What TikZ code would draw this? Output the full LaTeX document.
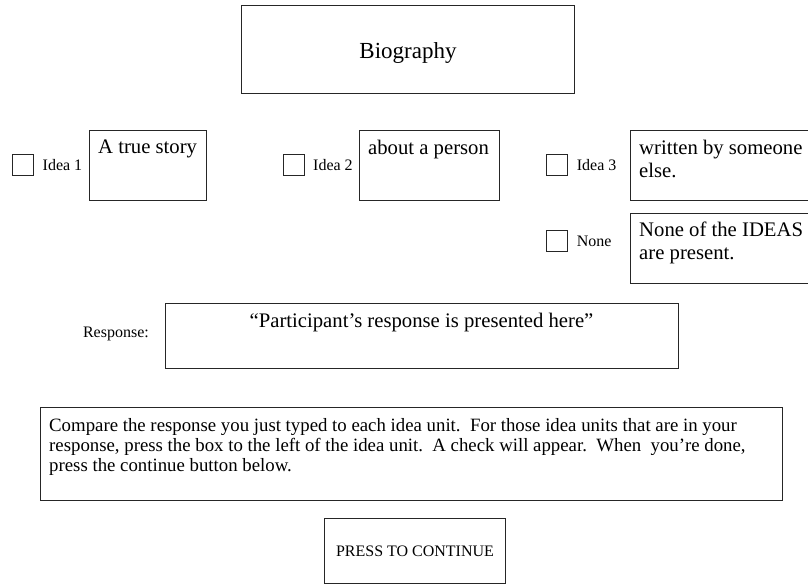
\documentclass[tikz,border=0pt]{standalone}
\usepackage{fontspec}
\setmainfont{Liberation Serif}
\usetikzlibrary{positioning}

\tikzset{
  every box/.style={draw=black!85, line width=1pt, rectangle, inner sep=0pt},
  tick box/.style={every box, minimum width=21pt, minimum height=21pt},
  small text/.style={inner sep=0pt, font=\fontsize{16}{19}\selectfont},
  unit text/.style={inner sep=0pt, align=left, anchor=north west, font=\fontsize{20.7}{23}\selectfont},
}

\begin{document}
\begin{tikzpicture}[x=1pt, y=-1pt]
	\useasboundingbox (0,0) rectangle (808,584);
	\clip (0,0) rectangle (808,584);
	
	% title
	\node [every box, minimum width=333pt, minimum height=88pt, text height=20pt, text depth=2pt, font=\fontsize{23}{27}\selectfont] (title) at (408,49.3) {Biography};
	
	% idea units
	\foreach \m/\cx/\bl/\br/\t in {1/12.5/89/206.6/{A true story}, 2/283/359/499/{about a person}, 3/546.7/630/812/{written by someone\\else.}}
	{
	  \node [tick box] (tick-\m) at (\cx+10.5,165) {};
	  \node [small text, right=8.5pt of tick-\m] (label-\m) {Idea \m};
	  \node [every box, minimum width=\br-\bl, minimum height=69.6pt] (unit-\m) at ({(\bl+\br)/2},165.2) {};
	  \node [unit text] (text-\m) at ([xshift=9.5pt, yshift=-10pt]unit-\m.north west) {\t};
	}
	
	% none
	\node [tick box] (tick-none) at (557.2,241.2) {};
	\node [small text, right=8.5pt of tick-none] (label-none) {None};
	\node [every box, minimum width=182pt, minimum height=69.6pt] (unit-none) at (721,248.2) {};
	\node [unit text] (text-none) at ([xshift=9.5pt, yshift=-9pt]unit-none.north west) {None of the IDEAS\\are present.};
	
	% response
	\node [every box, minimum width=513pt, minimum height=65.2pt] (response) at (421.5,336.1) {};
	\node [unit text, anchor=north] (response-text) at ([yshift=-10pt]response.north) {“Participant’s response is presented here”};
	\node [small text, anchor=east] (response-label) at ([xshift=-15.5pt, yshift=2.5pt]response.west) {Response:};
	
	% instructions
	\node [every box, minimum width=742pt, minimum height=92.4pt] (compare) at (411.7,454) {};
	\node [unit text, font=\fontsize{18.8}{20.2}\selectfont] (compare-text) at ([xshift=8.8pt, yshift=-10.5pt]compare.north west)
	  {Compare the response you just typed to each idea unit.\ \ For those idea units that are in your\\
	   response, press the box to the left of the idea unit.\ \ A check will appear.\ \ When\ \ you’re done,\\
	   press the continue button below.};
	
	% button
	\node [every box, minimum width=181pt, minimum height=65pt, font=\fontsize{16}{19}\selectfont] (continue) at (415,551) {PRESS TO CONTINUE};
\end{tikzpicture}
\end{document}
